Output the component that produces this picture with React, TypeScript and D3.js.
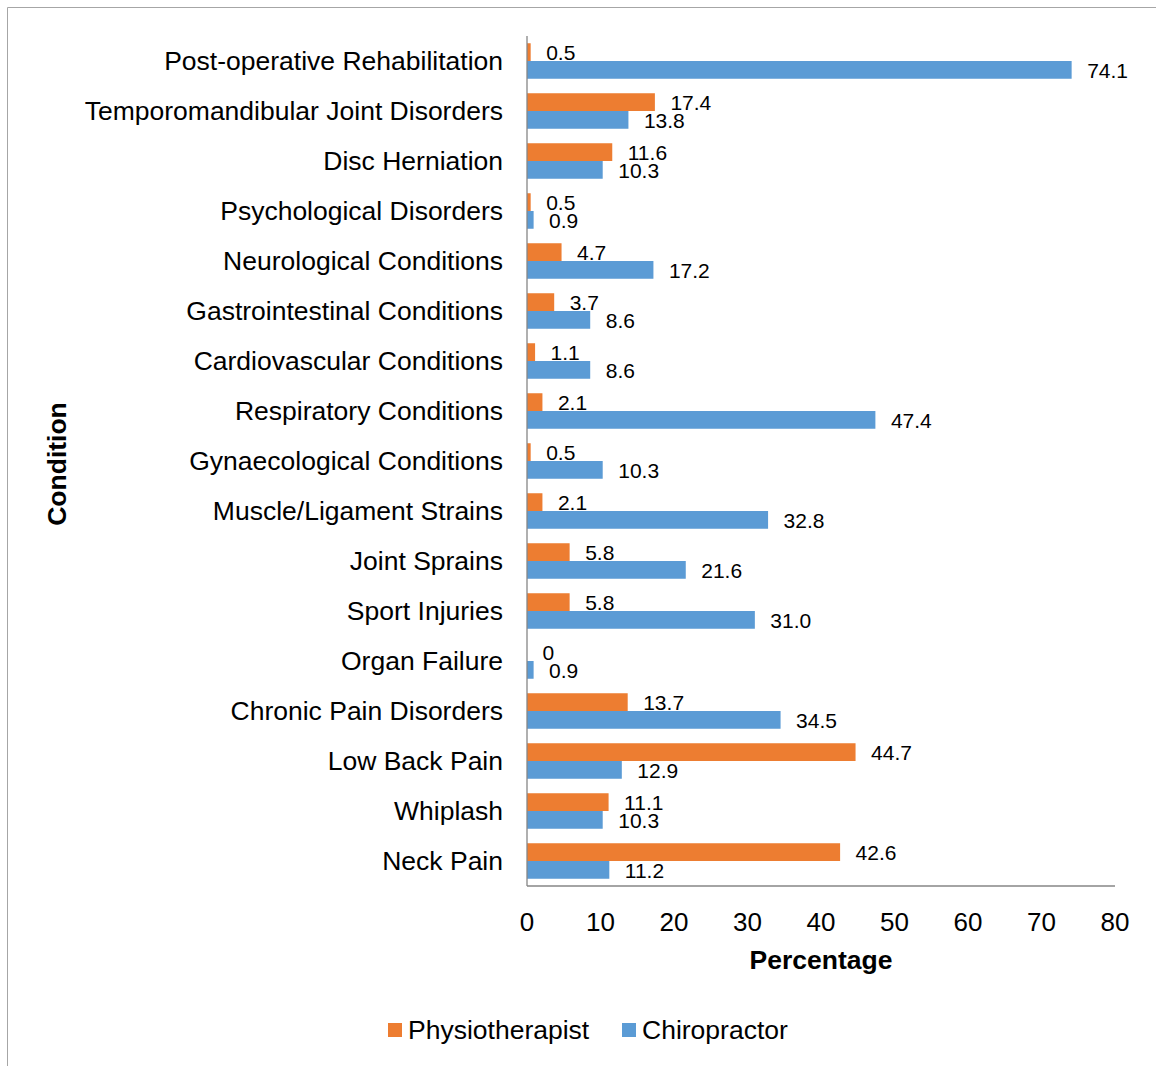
import React from "react";
import * as d3 from "d3";

const categories = [
  "Post-operative Rehabilitation",
  "Temporomandibular Joint Disorders",
  "Disc Herniation",
  "Psychological Disorders",
  "Neurological Conditions",
  "Gastrointestinal Conditions",
  "Cardiovascular Conditions",
  "Respiratory Conditions",
  "Gynaecological Conditions",
  "Muscle/Ligament Strains",
  "Joint Sprains",
  "Sport Injuries",
  "Organ Failure",
  "Chronic Pain Disorders",
  "Low Back Pain",
  "Whiplash",
  "Neck Pain",
];
const physiotherapist = [0.5, 17.4, 11.6, 0.5, 4.7, 3.7, 1.1, 2.1, 0.5, 2.1, 5.8, 5.8, 0, 13.7, 44.7, 11.1, 42.6];
const chiropractor = [74.1, 13.8, 10.3, 0.9, 17.2, 8.6, 8.6, 47.4, 10.3, 32.8, 21.6, 31.0, 0.9, 34.5, 12.9, 10.3, 11.2];
const seriesNames = ["Physiotherapist", "Chiropractor"];
const seriesColors = ["#ED7D31", "#5B9BD5"];
const xTicks = [0, 10, 20, 30, 40, 50, 60, 70, 80];

const W = 1156;
const H = 1066;
const FONT = "Arial, 'Liberation Sans', sans-serif";

export default function App() {
  const x = d3.scaleLinear().domain([0, 80]).range([527, 1115]);
  const y = d3.scaleBand<string>().domain(categories).range([36, 886]).padding(0);
  const groupH = y.step() * 0.71;
  const sub = d3.scaleBand<string>().domain(seriesNames).range([0, groupH]).padding(0);
  const series = [physiotherapist, chiropractor];
  const fmt = (v: number) => (v === 0 ? "0" : d3.format(".1f")(v));

  return (
    <svg width={W} height={H} style={{ position: "absolute", left: 0, top: 0, background: "#fff" }} fontFamily={FONT}>
      <rect x={0} y={0} width={W} height={H} fill="#fff" />
      <line x1={7.5} y1={7.5} x2={W} y2={7.5} stroke="#a6a6a6" strokeWidth={1} />
      <line x1={7.5} y1={7.5} x2={7.5} y2={H} stroke="#a6a6a6" strokeWidth={1} />

      {categories.map((c, i) => {
        const top = (y(c) as number) + (y.step() - groupH) / 2;
        return (
          <g key={c}>
            {series.map((s, si) => {
              const by = top + (sub(seriesNames[si]) as number);
              const bh = sub.bandwidth();
              return (
                <g key={si}>
                  <rect x={x(0)} y={by} width={x(s[i]) - x(0)} height={bh} fill={seriesColors[si]} />
                  <text
                    x={x(s[i]) + 15.5}
                    y={by + bh / 2 + 1}
                    dy="0.35em"
                    fontSize={21}
                    fill="#000"
                  >
                    {fmt(s[i])}
                  </text>
                </g>
              );
            })}
            <text
              x={503}
              y={(y(c) as number) + y.step() / 2}
              dy="0.35em"
              textAnchor="end"
              fontSize={26.5}
              fill="#000"
            >
              {c}
            </text>
          </g>
        );
      })}

      <line x1={x(0)} y1={36} x2={x(0)} y2={886} stroke="#868686" strokeWidth={1.3} />
      <line x1={x(0)} y1={886} x2={x(80)} y2={886} stroke="#868686" strokeWidth={1.3} />

      {xTicks.map((t) => (
        <text key={t} x={x(t)} y={922} dy="0.35em" textAnchor="middle" fontSize={26} fill="#000">
          {t}
        </text>
      ))}

      <text x={821} y={960} dy="0.35em" textAnchor="middle" fontSize={26.5} fontWeight="bold" fill="#000">
        Percentage
      </text>
      <text
        transform={`translate(57,464) rotate(-90)`}
        dy="0.35em"
        textAnchor="middle"
        fontSize={26.5}
        fontWeight="bold"
        fill="#000"
      >
        Condition
      </text>

      <rect x={388} y={1023} width={14} height={14} fill={seriesColors[0]} />
      <text x={408} y={1030} dy="0.35em" fontSize={26.5} fill="#000">
        {seriesNames[0]}
      </text>
      <rect x={622} y={1023} width={14} height={14} fill={seriesColors[1]} />
      <text x={642} y={1030} dy="0.35em" fontSize={26.5} fill="#000">
        {seriesNames[1]}
      </text>
    </svg>
  );
}
